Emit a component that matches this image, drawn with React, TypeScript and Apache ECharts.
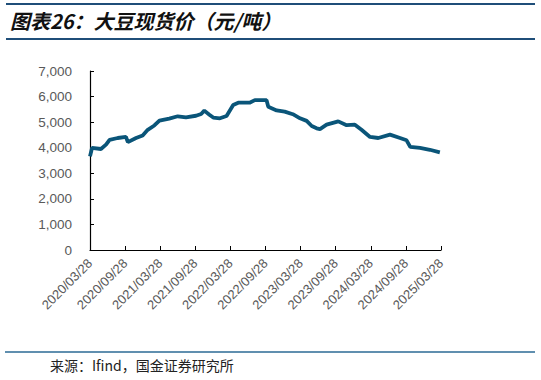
import React, { useEffect, useRef } from "react";
import * as echarts from "echarts";

const dates: string[] = [
  "2020/03/28", "2020/04/08", "2020/05/24", "2020/06/20", "2020/07/08", "2020/08/20",
  "2020/10/02", "2020/10/12", "2020/11/24", "2020/12/28", "2021/01/24", "2021/02/28",
  "2021/03/24", "2021/05/14", "2021/06/28", "2021/08/10", "2021/10/01", "2021/10/28",
  "2021/11/14", "2021/12/10", "2021/12/30", "2022/02/04", "2022/03/08", "2022/04/12",
  "2022/05/08", "2022/07/06", "2022/08/03", "2022/10/03", "2022/10/12", "2022/11/25",
  "2023/01/06", "2023/02/18", "2023/03/25", "2023/04/29", "2023/05/25", "2023/06/20",
  "2023/07/07", "2023/08/11", "2023/10/11", "2023/11/24", "2024/01/06", "2024/02/10",
  "2024/03/24", "2024/05/06", "2024/07/06", "2024/08/28", "2024/10/01", "2024/10/20",
  "2024/12/10", "2025/01/31", "2025/03/22",
];

const prices: number[] = [
  3660, 3990, 3950, 4120, 4310, 4380,
  4420, 4220, 4380, 4480, 4700, 4870,
  5060, 5140, 5230, 5190, 5250, 5320,
  5450, 5290, 5180, 5150, 5240, 5670,
  5760, 5760, 5860, 5860, 5600, 5460,
  5410, 5310, 5150, 5050, 4850, 4760,
  4730, 4900, 5030, 4880, 4900, 4700,
  4420, 4380, 4510, 4380, 4290, 4030,
  3990, 3920, 3820,
];

const tickLabels: string[] = [
  "2020/03/28", "2020/09/28", "2021/03/28", "2021/09/28", "2022/03/28", "2022/09/28",
  "2023/03/28", "2023/09/28", "2024/03/28", "2024/09/28", "2025/03/28",
];

const yTicks: number[] = [0, 1000, 2000, 3000, 4000, 5000, 6000, 7000];

const title = "图表26：大豆现货价（元/吨）";
const source = "来源：Ifind，国金证券研究所";

function monthOffset(d: string): number {
  const [y, m, day] = d.split("/").map(Number);
  return (y - 2020) * 12 + (m - 3) + (day - 28) / 30.5;
}

export default function App() {
  const ref = useRef<HTMLDivElement>(null);
  useEffect(() => {
    if (!ref.current) return;
    const chart = echarts.init(ref.current, null, { renderer: "svg" });
    const seriesData = dates.map((d, i) => [monthOffset(d), prices[i]]);
    chart.setOption({
      animation: false,
      backgroundColor: "#ffffff",
      grid: { left: 90, right: 100, top: 71, bottom: 130, containLabel: false },
      xAxis: {
        type: "value",
        min: 0,
        max: 60,
        interval: 6,
        axisLine: { show: true, onZero: false, lineStyle: { color: "#000", width: 1.2 } },
        axisTick: { show: true, inside: true, length: 4, lineStyle: { color: "#000" } },
        splitLine: { show: false },
        axisLabel: {
          rotate: 45,
          margin: 11,
          color: "#595959",
          fontSize: 13,
          fontFamily: "Liberation Sans, Arial, sans-serif",
          formatter: (v: number) => tickLabels[Math.round(v / 6)] ?? "",
        },
      },
      yAxis: {
        type: "value",
        min: yTicks[0],
        max: yTicks[yTicks.length - 1],
        interval: 1000,
        axisLine: { show: true, lineStyle: { color: "#000", width: 1.2 } },
        axisTick: { show: true, inside: true, length: 4, lineStyle: { color: "#000" } },
        splitLine: { show: false },
        axisLabel: {
          margin: 18,
          color: "#595959",
          fontSize: 13.5,
          fontFamily: "Liberation Sans, Arial, sans-serif",
          formatter: (v: number) => v.toLocaleString("en-US"),
        },
      },
      series: [
        {
          type: "line",
          data: seriesData,
          showSymbol: false,
          smooth: false,
          lineStyle: { color: "#0a5579", width: 3.8 },
          itemStyle: { color: "#0a5579" },
        },
      ],
      graphic: [
        { type: "line", shape: { x1: 6, y1: 4, x2: 535, y2: 4 }, style: { stroke: "#1f4e79", lineWidth: 2 } },
        { type: "line", shape: { x1: 6, y1: 39, x2: 535, y2: 39 }, style: { stroke: "#1f4e79", lineWidth: 2 } },
        {
          type: "text",
          left: 10,
          top: 10,
          style: {
            text: title,
            fill: "#111",
            font: "italic bold 20px 'Noto Sans CJK SC', sans-serif",
          },
        },
        { type: "line", shape: { x1: 5, y1: 352, x2: 535, y2: 352 }, style: { stroke: "#2b6a94", lineWidth: 1.5 } },
        {
          type: "text",
          left: 50,
          top: 358,
          style: {
            text: source,
            fill: "#222",
            font: "14px 'Noto Sans CJK SC', sans-serif",
          },
        },
      ],
    });
    return () => chart.dispose();
  }, []);
  return (
    <div
      ref={ref}
      style={{ position: "absolute", left: 0, top: 0, width: 541, height: 380 }}
    />
  );
}
